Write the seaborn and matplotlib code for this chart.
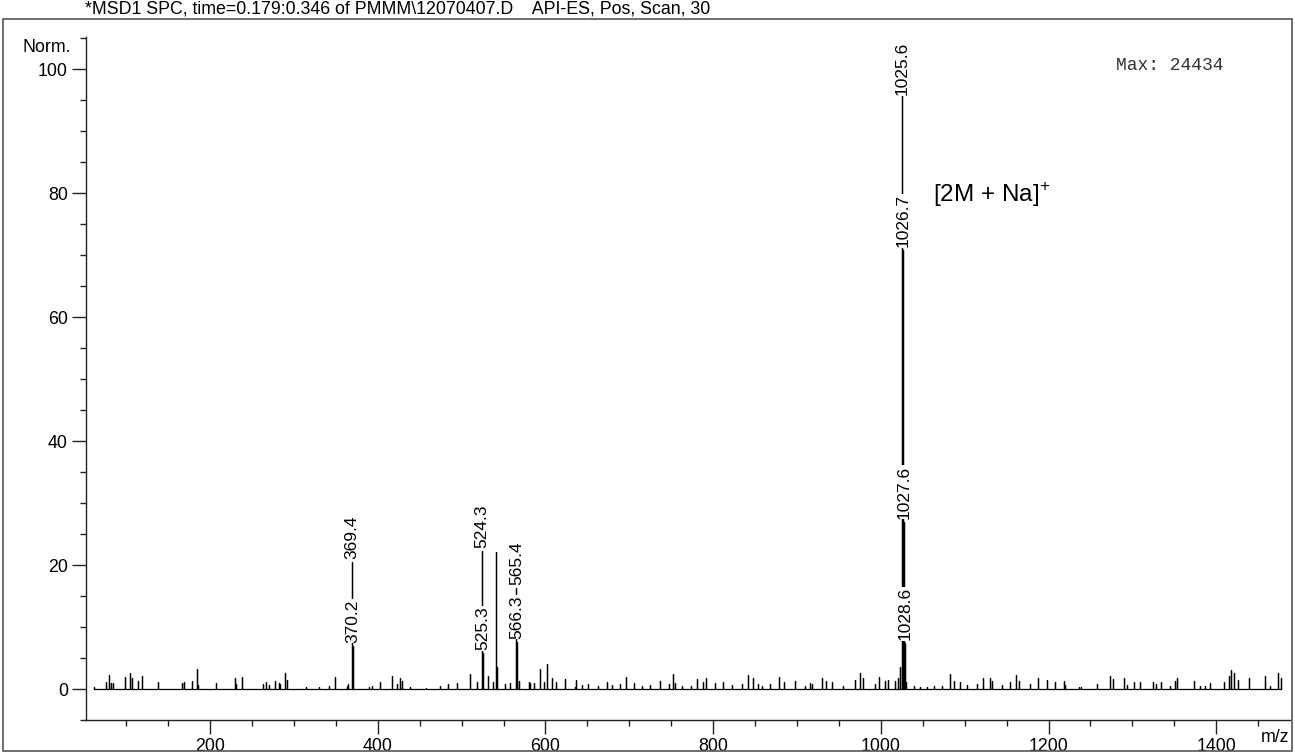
import matplotlib
matplotlib.use("Agg")
import matplotlib.pyplot as plt
import matplotlib.patches as mpatches
from matplotlib.ticker import MultipleLocator
import numpy as np
import pandas as pd
import seaborn as sns

# ---------------- data ----------------
title_text = r"*MSD1 SPC, time=0.179:0.346 of PMMM\12070407.D    API-ES, Pos, Scan, 30"
max_text = "Max: 24434"
ion_text = r"[2M + Na]$^{+}$"

# labelled peaks (m/z, normalised intensity)
label_mz = [369.4, 370.2, 524.3, 525.3, 565.4, 566.3, 1025.6, 1026.7, 1027.6, 1028.6]
label_int = [20.5, 7.0, 22.3, 5.8, 16.3, 7.6, 100.0, 70.8, 27.0, 7.4]

# unlabelled larger peak
extra_mz = [541.0]
extra_int = [22.1]

# small background peaks
noise_mz = [61, 76, 80, 82, 84, 99, 104, 107, 114, 119, 138, 167, 169, 179, 184, 186,
            207, 230, 231, 238, 263, 267, 270, 277, 282, 283, 289, 292, 314, 330, 342,
            349, 363, 365, 390, 393, 403, 417, 423, 427, 429, 439, 458, 474, 484, 494,
            510, 518, 532, 537, 542, 552, 558, 568, 580, 582, 586, 593, 598, 602, 608,
            612, 623, 635,
            637, 643, 651, 663, 673, 679, 689, 696, 705, 715, 725, 737, 747, 752, 755,
            763, 773, 781, 788, 792, 802, 812, 822, 834, 841, 848, 853, 858, 868, 878,
            884, 898, 910, 916, 918,
            930, 934, 942, 955, 969, 975, 979, 993, 998, 1005, 1009, 1017, 1021, 1023,
            1030, 1039, 1047, 1055, 1063, 1073, 1083, 1087, 1095, 1103, 1115, 1122, 1130,
            1132, 1144, 1154, 1161, 1165, 1178, 1188, 1198, 1208, 1218,
            1220, 1236, 1239, 1258, 1273, 1277, 1290, 1293, 1302, 1309, 1325, 1328, 1334,
            1345, 1351, 1353, 1373, 1381, 1387, 1393, 1409, 1415, 1418, 1421, 1426, 1439,
            1458, 1464, 1474, 1477]
noise_int = [0.3, 1.2, 2.3, 1.0, 0.9, 1.9, 2.6, 1.7, 1.3, 2.1, 1.2, 1.0, 1.2, 1.3, 3.2, 0.6,
             1.0, 1.7, 0.8, 1.9, 0.8, 1.2, 0.6, 1.3, 1.0, 0.8, 2.6, 1.4, 0.3, 0.3, 0.5,
             1.9, 0.5, 0.8, 0.3, 0.5, 1.2, 2.1, 0.8, 1.7, 1.3, 0.3, 0.2, 0.5, 0.8, 1.0,
             2.5, 1.2, 2.1, 1.2, 3.5, 0.8, 1.0, 1.3, 1.2, 1.0, 0.9, 3.2, 1.2, 4.0, 1.7,
             1.2, 1.6, 0.3,
             1.4, 0.6, 0.8, 0.5, 1.2, 0.6, 0.8, 1.9, 0.9, 0.5, 0.6, 1.3, 0.8, 2.5, 0.9,
             0.5, 0.5, 1.6, 1.2, 1.8, 0.9, 1.2, 0.6, 0.8, 2.3, 1.8, 0.8, 0.5, 0.8, 1.9,
             1.2, 1.3, 0.5, 1.0, 0.8,
             1.7, 1.3, 1.2, 0.5, 1.4, 2.6, 1.7, 0.8, 1.9, 1.3, 1.4, 1.3, 1.7, 3.5,
             1.2, 0.5, 0.3, 0.3, 0.5, 0.5, 2.4, 1.3, 1.2, 0.6, 0.8, 1.7, 1.7,
             1.3, 0.6, 1.2, 2.3, 1.3, 0.8, 1.7, 1.4, 1.2, 1.3,
             0.6, 0.3, 0.3, 0.8, 2.1, 1.6, 1.7, 0.6, 1.2, 1.2, 1.2, 0.8, 1.2,
             0.5, 1.3, 1.7, 1.3, 0.5, 0.5, 0.9, 1.2, 2.1, 3.0, 2.6, 1.4, 1.8,
             2.1, 0.5, 2.6, 1.7]

x_major = [200, 400, 600, 800, 1000, 1200, 1400]
y_major = [0, 20, 40, 60, 80, 100]

# ---------------- build stick profile ----------------
all_mz = np.array(noise_mz + extra_mz + label_mz, dtype=float)
all_int = np.array(noise_int + extra_int + label_int, dtype=float)
order = np.argsort(all_mz, kind="stable")
all_mz, all_int = all_mz[order], all_int[order]
prof_x = np.repeat(all_mz, 3)
prof_y = np.column_stack([np.zeros_like(all_int), all_int, np.zeros_like(all_int)]).ravel()
prof = pd.DataFrame({"mz": prof_x, "intensity": prof_y})

# ---------------- figure ----------------
sns.set_style("ticks")
plt.rcParams["font.family"] = ["Liberation Sans", "DejaVu Sans"]
plt.rcParams["mathtext.fontset"] = "custom"
plt.rcParams["mathtext.rm"] = "Liberation Sans"
plt.rcParams["text.color"] = "black"
plt.rcParams["xtick.labelcolor"] = "black"
plt.rcParams["ytick.labelcolor"] = "black"

W, H = 1295, 753
fig = plt.figure(figsize=(W / 100, H / 100), dpi=100)
ax = fig.add_axes([86 / W, 1 - 720 / H, (1290 - 86) / W, (720 - 37) / H])

sns.lineplot(data=prof, x="mz", y="intensity", sort=False, estimator=None,
             color="black", linewidth=0.9, ax=ax, legend=False)

ax.set_xlim(52, 1488)
ax.set_ylim(-5, 105.2)
ax.set_xlabel("")
ax.set_ylabel("")
ax.set_xticks(x_major)
ax.set_yticks(y_major)
ax.xaxis.set_minor_locator(MultipleLocator(50))
ax.yaxis.set_minor_locator(MultipleLocator(5))
ax.tick_params(axis="both", which="major", length=10, width=1, direction="out",
               labelsize=12.8, color="#222222", labelcolor="black", pad=3)
ax.tick_params(axis="both", which="minor", length=4.5, width=1, direction="out",
               color="#222222")
for s in ["top", "right"]:
    ax.spines[s].set_visible(False)
for s in ["left", "bottom"]:
    ax.spines[s].set_color("#222222")
    ax.spines[s].set_linewidth(1)

# peak labels
ytop = ax.get_ylim()[1]
for mz, h in zip(label_mz, label_int):
    txt = f"{mz:.1f}"
    if h > 90:
        ax.text(mz, ytop - 0.8, txt, rotation=90, ha="center", va="top", fontsize=12.5,
                color="black",
                bbox=dict(facecolor="white", edgecolor="none", pad=0.3), zorder=5)
    else:
        ax.annotate(txt, xy=(mz, h), xytext=(0, 2), textcoords="offset points",
                    rotation=90, ha="center", va="bottom", fontsize=12.5, color="black",
                    bbox=dict(facecolor="white", edgecolor="none", pad=0.3), zorder=5)

ax.text(1062, 79.8, ion_text, ha="left", va="center", fontsize=17.5, color="black")
ax.text(1280, 100.6, max_text, ha="left", va="center", fontsize=13,
        family=["Liberation Mono", "DejaVu Sans Mono"], color="#333333")

# figure texts
fig.text(85 / W, 1 - 9 / H, title_text, ha="left", va="center", fontsize=12.8, color="black")
fig.text(71 / W, 1 - 48 / H, "Norm.", ha="right", va="center", fontsize=12.8, color="black")
fig.text(1289 / W, 1 - 738 / H, "m/z", ha="right", va="center", fontsize=12.8, color="black")

# frame
fig.patches.append(mpatches.Rectangle((3 / W, 1 - 751 / H), (1292 - 3) / W, (751 - 19) / H,
                                      transform=fig.transFigure, fill=False,
                                      edgecolor="#555555", linewidth=1.2))

fig.savefig("out.png", dpi=100)
